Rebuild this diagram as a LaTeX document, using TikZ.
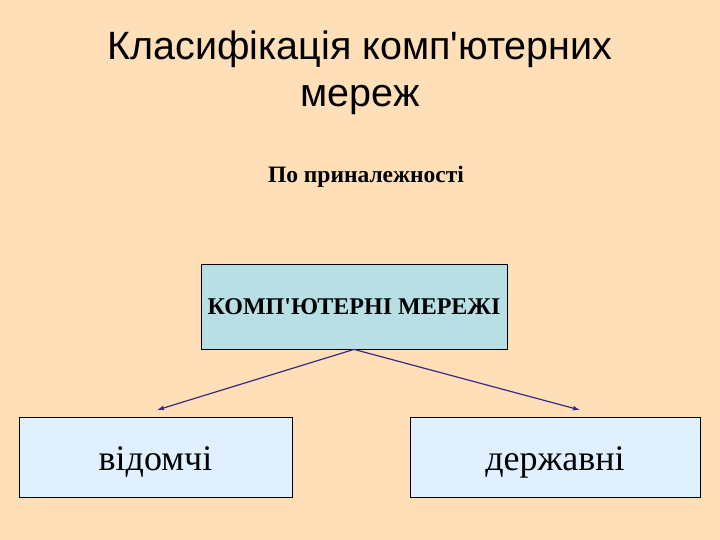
\documentclass[tikz,border=0pt]{standalone}
\usepackage{fontspec}
\setmainfont{Liberation Serif}
\newfontfamily\serifplain{Liberation Serif}
\newfontfamily\titlefont{Liberation Sans}
\usetikzlibrary{arrows.meta}
\definecolor{bgpeach}{RGB}{255,223,183}
\definecolor{midfill}{RGB}{184,224,228}
\definecolor{lowfill}{RGB}{224,240,255}
\definecolor{arrowcol}{RGB}{60,40,130}
\tikzset{
  topbox/.style={draw=black, line width=0.8pt, fill=midfill, minimum width=306pt, minimum height=85pt, inner sep=0pt},
  lowbox/.style={draw=black, line width=0.8pt, fill=lowfill, minimum height=80pt, inner sep=0pt},
  conn/.style={draw=arrowcol, line width=1.2pt, -{Latex[length=7pt,width=5pt]}}
}
\begin{document}
\begin{tikzpicture}[x=1pt,y=1pt]
\fill[bgpeach] (0,0) rectangle (720,-540);
\useasboundingbox (0,0) rectangle (720,-540);
\node (title) at (360,-73) [align=center, font=\titlefont\fontsize{39.5}{47}\selectfont] {Класифікація комп'ютерних\\мереж};
\node (sub) at (366,-177) [font=\serifplain\bfseries\fontsize{23.5}{26}\selectfont] {По приналежності};
\node (top) at (354,-306.5) [topbox, font=\serifplain\bfseries\fontsize{24}{26}\selectfont] {КОМП'ЮТЕРНІ МЕРЕЖІ};
\node (left) at (155.5,-457) [lowbox, minimum width=273pt, font=\serifplain\fontsize{36}{40}\selectfont, text depth=2pt] {\raisebox{-5pt}{відомчі}};
\node (right) at (555,-457) [lowbox, minimum width=290pt, font=\serifplain\fontsize{36}{40}\selectfont, text depth=2pt] {\raisebox{-5pt}{державні}};
\coordinate (la) at (157,-410);
\coordinate (ra) at (580,-410);
\draw[conn] (top.south) -- (la);
\draw[conn] (top.south) -- (ra);
\end{tikzpicture}
\end{document}
